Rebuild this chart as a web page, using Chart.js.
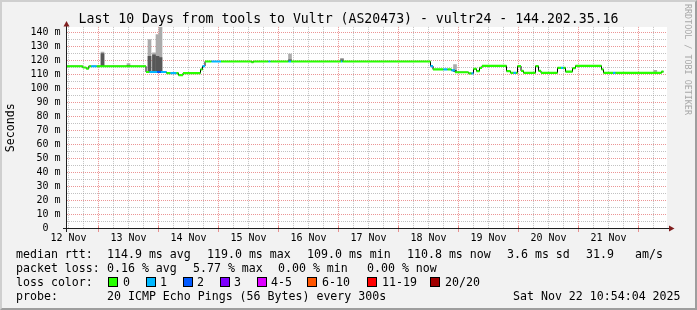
<!DOCTYPE html>
<html lang="en">
<head>
<meta charset="UTF-8">
<title>vultr24 - Last 10 Days</title>
<script src="https://cdn.jsdelivr.net/npm/chart.js@4/dist/chart.umd.min.js"></script>
<style>
    body { margin: 0; background: #f2f2f2; font-family: 'DejaVu Sans Mono', monospace; }
    #wrap { position: relative; width: 697px; height: 310px; background: #f2f2f2; overflow: hidden; }
    #chartBox { position: absolute; left: 0; top: 0; }
    #title { position: absolute; left: 0; top: 10px; width: 697px; text-align: center; font-size: 13.2px; line-height: 18px; white-space: pre; color: #000; }
    #mark { position: absolute; left: 683px; top: 4px; writing-mode: vertical-rl; font-size: 8.4px; line-height: 10px; color: #a8a8a8; white-space: pre; }
    .t { position: absolute; white-space: pre; font-size: 11.6px; line-height: 14px; color: #000; }
    .sq { position: absolute; top: 277px; width: 8px; height: 8px; border: 1px solid #000; }
    #frame { position: absolute; left: 0; top: 0; width: 697px; height: 310px; box-sizing: border-box; border: 2px solid; border-color: #cfcfcf #9e9e9e #9e9e9e #cfcfcf; pointer-events: none; }
</style>
</head>
<body>
<div id="wrap">
    <canvas id="chartBox" width="697" height="250"></canvas>
    <div id="title">Last 10 Days from tools to Vultr (AS20473) - vultr24 - 144.202.35.16</div>
    <div id="mark">RRDTOOL / TOBI OETIKER</div>

    <div class="t" style="left:16px;top:247px">median rtt:</div>
    <div class="t" style="left:107px;top:247px">114.9 ms avg</div>
    <div class="t" style="left:207px;top:247px">119.0 ms max</div>
    <div class="t" style="left:307px;top:247px">109.0 ms min</div>
    <div class="t" style="left:407px;top:247px">110.8 ms now</div>
    <div class="t" style="left:507px;top:247px">3.6 ms sd</div>
    <div class="t" style="left:586px;top:247px">31.9</div>
    <div class="t" style="left:635px;top:247px">am/s</div>

    <div class="t" style="left:16px;top:261px">packet loss:</div>
    <div class="t" style="left:107px;top:261px">0.16 % avg</div>
    <div class="t" style="left:193px;top:261px">5.77 % max</div>
    <div class="t" style="left:278px;top:261px">0.00 % min</div>
    <div class="t" style="left:367px;top:261px">0.00 % now</div>

    <div class="t" style="left:16px;top:275px">loss color:</div>
    <div id="legend"></div>

    <div class="t" style="left:16px;top:289px">probe:</div>
    <div class="t" style="left:107px;top:289px">20 ICMP Echo Pings (56 Bytes) every 300s</div>
    <div class="t" style="left:513px;top:289px">Sat Nov 22 10:54:04 2025</div>
    <div id="frame"></div>
</div>
<script>
    // time axis is in hours since the left edge of the graph (10 days = 240 h)
    const firstMidnight = 12.8;
    const xDayLabels = ['12 Nov', '13 Nov', '14 Nov', '15 Nov', '16 Nov', '17 Nov', '18 Nov', '19 Nov', '20 Nov', '21 Nov'];

    // loss classes
    const lossLabels = ['0', '1', '2', '3', '4-5', '6-10', '11-19', '20/20'];
    const lossColors = ['#26ff00', '#00b8ff', '#0059ff', '#7e00ff', '#dd00ff', '#ff5500', '#ff0000', '#a10000'];

    // median rtt (ms), one entry per step: start hour, value, loss class
    const medStart = [0, 6.5, 7.9, 8.9, 9.9, 12.1, 31.8, 33.2, 36.2, 37.8, 40, 41.6, 44, 44.8, 46.6,
        53.6, 54.4, 55.4, 58, 61.8, 74, 74.8, 80.8, 81.6, 88.8, 89.8, 109.8, 110.4,
        145.6, 146.6, 150.8, 152.4, 154, 155.4, 160.8, 162, 162.8, 164, 165.2, 166.2,
        176, 177.6, 178.8, 179.8, 180.4, 181.8, 182.8, 187.6, 188.8, 189.8,
        196.4, 197.8, 198.8, 199.6, 202.4, 203.6, 214, 214.8, 218.6, 219.6, 238];
    const medValue = [115.9, 115.0, 114.2, 115.9, 115.9, 115.9, 111.8, 111.8, 111.8, 111.8, 111.0, 111.0, 111.0, 109.5, 111.0,
        113.6, 116.0, 119.3, 119.3, 119.3, 118.8, 119.3, 119.3, 119.3, 119.3, 119.3, 119.3, 119.3,
        116.0, 113.6, 113.6, 113.6, 113.0, 111.6, 110.8, 110.8, 114.0, 112.4, 114.8, 116.2,
        112.4, 111.2, 111.2, 111.2, 116.0, 112.6, 111.2, 116.0, 112.6, 111.2,
        114.8, 114.8, 114.8, 112.0, 114.5, 116.2, 113.6, 111.2, 111.2, 111.2, 112.0];
    const medLoss = [0, 0, 0, 0, 1, 0, 0, 1, 2, 1, 0, 1, 0, 0, 0,
        0, 1, 0, 1, 0, 0, 0, 1, 0, 1, 0, 1, 0,
        1, 0, 1, 0, 1, 0, 0, 1, 0, 0, 0, 0,
        0, 0, 1, 0, 0, 0, 0, 0, 0, 0,
        0, 1, 0, 0, 0, 0, 0, 0, 1, 0, 0];
    const medEnd = 238.8;

    // smoke (spread of the pings) where it rises above the median
    const smokeTime = [14.4, 24.8, 33.2, 35, 36.4, 37.6, 89.4, 110.2, 155.4, 235.5];
    const smokeLow = [116, 116, 112, 112, 112, 112, 119.5, 119.5, 112, 111.2];
    const smokeCore = [125, 116.5, 123, 124, 123, 122, 120.5, 120.5, 113, 111.5];
    const smokeHigh = [126, 117.8, 135, 125.5, 138.6, 145, 124.5, 121.5, 117, 113];

    // legend squares
    const sqLeft = [108, 146, 183, 220, 257, 307, 367, 430];
    const txtLeft = [123, 160, 197, 234, 271, 322, 382, 445];
    const legend = document.getElementById('legend');
    lossLabels.forEach((lab, i) => {
        const sq = document.createElement('div');
        sq.className = 'sq';
        sq.style.left = sqLeft[i] + 'px';
        sq.style.background = lossColors[i];
        legend.appendChild(sq);
        const t = document.createElement('div');
        t.className = 't';
        t.style.left = txtLeft[i] + 'px';
        t.style.top = '275px';
        t.textContent = lab;
        legend.appendChild(t);
    });

    const MONO = 'DejaVu Sans Mono';
    const majorGrid = 'rgba(222,79,79,0.6)';
    const minorGrid = 'rgba(143,143,143,0.55)';
    const isMidnight = v => Math.abs(((v - firstMidnight) % 24 + 24) % 24) < 1e-6;

    // black step line (shows the jumps) + coloured flat pieces on top
    const blackLine = medStart.map((x, i) => ({ x: x, y: medValue[i] }));
    blackLine.push({ x: medEnd, y: medValue[medValue.length - 1] });
    const colorLine = [];
    medStart.forEach((x, i) => {
        const end = i < medStart.length - 1 ? medStart[i + 1] : medEnd;
        colorLine.push({ x: x, y: medValue[i] }, { x: end, y: medValue[i] }, { x: end, y: null });
    });

    const rrdPlugin = {
        id: 'rrd',
        beforeDraw(chart) {
            const ctx = chart.ctx;
            ctx.save();
            ctx.fillStyle = '#fff';
            ctx.fillRect(67, 27, 600, 202);
            ctx.restore();
        },
        afterDraw(chart) {
            const ctx = chart.ctx, xs = chart.scales.x;
            ctx.save();
            // red ticks at midnight
            ctx.fillStyle = majorGrid;
            xs.ticks.forEach(t => {
                if (isMidnight(t.value)) ctx.fillRect(Math.round(xs.getPixelForValue(t.value) - 0.5), 226, 1, 6);
            });
            ctx.fillStyle = '#1f1f1f';
            ctx.fillRect(66, 26, 1, 206);
            ctx.fillRect(63, 228, 606, 1);
            ctx.fillStyle = '#801f1f';
            ctx.beginPath();
            ctx.moveTo(63.5, 26.5); ctx.lineTo(69.5, 26.5); ctx.lineTo(66.5, 21); ctx.closePath(); ctx.fill();
            ctx.beginPath();
            ctx.moveTo(669, 225.5); ctx.lineTo(669, 231.5); ctx.lineTo(674.5, 228.5); ctx.closePath(); ctx.fill();
            ctx.restore();
        }
    };

    new Chart(document.getElementById('chartBox'), {
        type: 'bar',
        data: {
            datasets: [
                {
                    type: 'line', data: colorLine, order: 1,
                    borderWidth: 2.2, pointRadius: 0, spanGaps: false,
                    segment: { borderColor: c => lossColors[medLoss[Math.floor(c.p0DataIndex / 3)]] },
                    borderColor: lossColors[0]
                },
                {
                    type: 'line', data: blackLine, order: 2, stepped: true,
                    borderWidth: 1, borderColor: '#000', pointRadius: 0
                },
                {
                    data: smokeTime.map((x, i) => ({ x: x, y: [smokeLow[i], smokeCore[i]] })), order: 3,
                    backgroundColor: '#575757', barThickness: 3, grouped: false
                },
                {
                    data: smokeTime.map((x, i) => ({ x: x, y: [smokeLow[i], smokeHigh[i]] })), order: 4,
                    backgroundColor: '#ababab', barThickness: 3, grouped: false
                }
            ]
        },
        options: {
            responsive: false,
            animation: false,
            events: [],
            layout: { padding: { left: 0, right: 30.5, top: 26.9, bottom: 5.5 } },
            plugins: { legend: { display: false }, tooltip: { enabled: false } },
            scales: {
                x: {
                    type: 'linear', min: 0, max: 240, offset: false,
                    afterBuildTicks: s => {
                        const t = [];
                        for (let h = firstMidnight - 12; h <= 240; h += 6) t.push({ value: h });
                        s.ticks = t;
                    },
                    afterFit: s => { s.height = 16; },
                    grid: {
                        offset: false, drawTicks: false,
                        color: c => (c.tick && isMidnight(c.tick.value)) ? majorGrid : minorGrid
                    },
                    border: { display: false, dash: [1, 1] },
                    ticks: {
                        autoSkip: false, maxRotation: 0, padding: 4, color: '#000',
                        font: { family: MONO, size: 10 },
                        callback: v => {
                            const k = (v - (firstMidnight - 12)) / 24;
                            return Math.abs(k - Math.round(k)) < 1e-6 ? xDayLabels[Math.round(k)] : '';
                        }
                    }
                },
                y: {
                    type: 'linear', min: 0, max: 144,
                    afterBuildTicks: s => {
                        const t = [];
                        for (let v = 0; v <= 140; v += 5) t.push({ value: v });
                        s.ticks = t;
                    },
                    afterFit: s => { s.width = 66.5; },
                    grid: {
                        drawTicks: false,
                        color: c => (c.tick && c.tick.value % 10 === 0) ? majorGrid : minorGrid
                    },
                    border: { display: false, dash: [1, 1] },
                    title: {
                        display: true, text: 'Seconds', color: '#000',
                        font: { family: MONO, size: 11.6 }, padding: { top: 4, bottom: 0 }
                    },
                    ticks: {
                        autoSkip: false, padding: 6, color: '#000',
                        font: { family: MONO, size: 10 },
                        callback: v => v === 0 ? '0  ' : (v % 10 === 0 ? v + ' m' : '')
                    }
                }
            }
        },
        plugins: [rrdPlugin]
    });
</script>
</body>
</html>
